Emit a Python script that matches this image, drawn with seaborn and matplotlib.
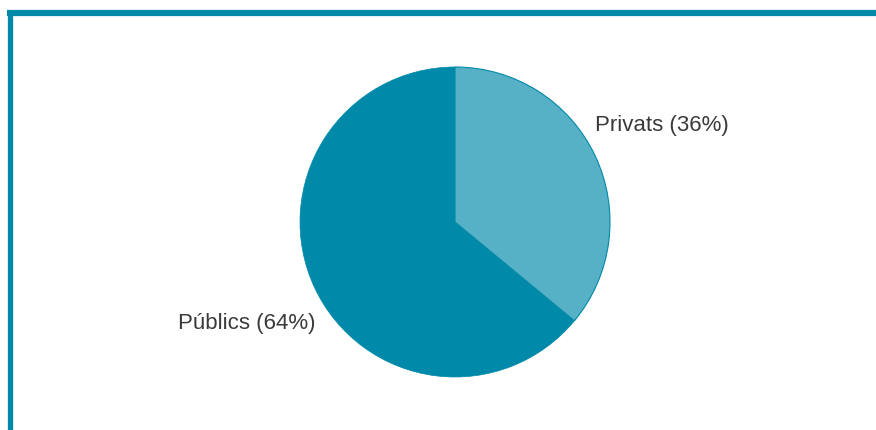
import matplotlib
matplotlib.use("Agg")
import matplotlib.pyplot as plt
from matplotlib.lines import Line2D
import seaborn as sns

labels = ["Privats", "Públics"]
shares = [36, 64]
colors = ["#56B0C6", "#0089A8"]

sns.set_theme(style="white")
plt.rcParams["font.family"] = ["Liberation Sans", "DejaVu Sans"]

W, H = 876, 430
fig = plt.figure(figsize=(W / 100, H / 100), dpi=100)
fig.patch.set_facecolor("white")

# frame accents: top rule and left rule
frame_color = "#0089A8"
fig.add_artist(Line2D([7 / W, 1.0], [1 - 13 / H, 1 - 13 / H], color=frame_color, lw=4.5,
                      solid_capstyle="butt", transform=fig.transFigure))
fig.add_artist(Line2D([9.5 / W, 9.5 / W], [0, 1 - 10 / H], color=frame_color, lw=3.8,
                      solid_capstyle="butt", transform=fig.transFigure))

cx, cy, r = 455, 222, 155
ax = fig.add_axes([(cx - r) / W, (H - cy - r) / H, 2 * r / W, 2 * r / H])
wedges, _ = ax.pie(shares, colors=colors, startangle=90, counterclock=False, radius=1.0)
wedges[1].set_edgecolor(colors[1])
wedges[1].set_linewidth(0.5)
wedges[0].set_edgecolor("#0089A8")
wedges[0].set_linewidth(0.8)
wedges[0].set_zorder(3)
ax.set_xlim(-1, 1)
ax.set_ylim(-1, 1)
ax.set_aspect("equal")
ax.axis("off")

ax.text(0.903, 0.62, f"{labels[0]} ({shares[0]}%)", ha="left", va="center",
        fontsize=16, color="#3a3a3a")
ax.text(-0.897, -0.655, f"{labels[1]} ({shares[1]}%)", ha="right", va="center",
        fontsize=16, color="#3a3a3a")

fig.savefig("out.png", dpi=100, facecolor="white")
